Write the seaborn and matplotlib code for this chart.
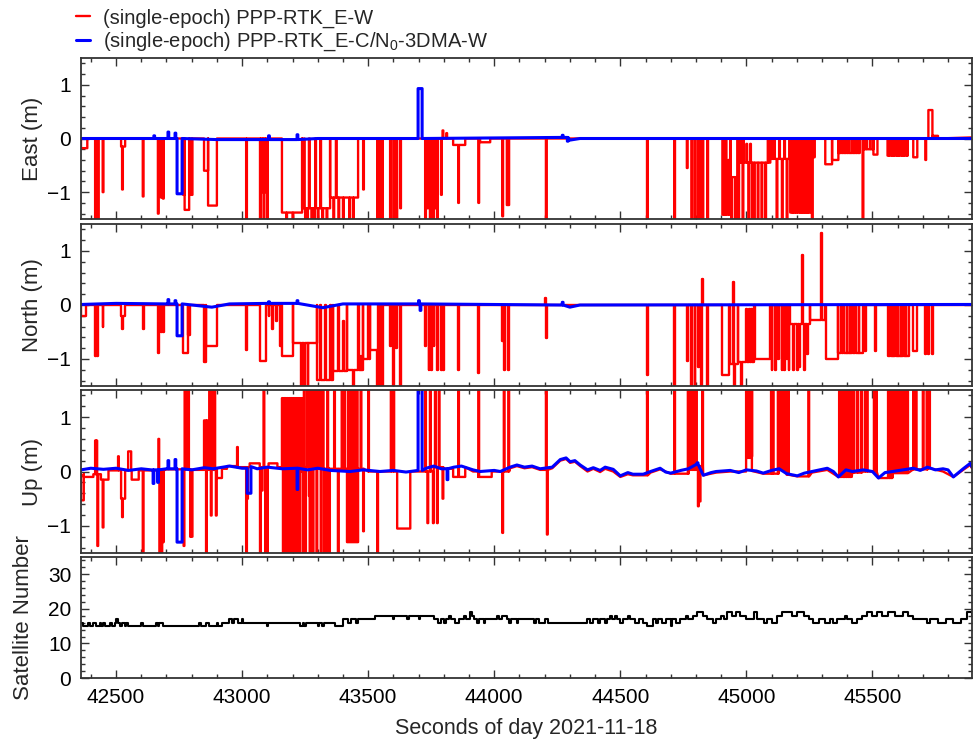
import numpy as np
import pandas as pd
import seaborn as sns
import matplotlib
matplotlib.use("Agg")
import matplotlib.pyplot as plt
from matplotlib.ticker import MultipleLocator

# ---- data (seconds of day, metres / count) ----
X_MIN, X_MAX = 42361, 45895

# East, red (PPP-RTK_E-W)
east_red_base = [(42361, 0.0), (45895, 0.02)]
east_red_plateaus = [
    (42361, 42386, -0.18), (42520, 42536, -0.15), (42766, 42772, -1.05), (42772, 42790, -1.33),
    (42790, 42795, -1.05), (42849, 42865, -0.6), (42865, 42900, -1.25), (43158, 43238, -1.38),
    (43238, 43349, -1.3), (43349, 43460, -1.1), (43837, 43885, -0.12), (43944, 43984, -0.07),
    (44905, 44937, -1.42), (44937, 44964, -0.72), (44990, 45095, -0.45), (45095, 45170, -0.38),
    (45174, 45254, -1.38), (45313, 45340, -0.48), (45340, 45365, -0.4), (45365, 45450, -0.27),
    (45464, 45504, -0.2), (45504, 45520, -0.3), (45560, 45640, -0.32), (45662, 45678, -0.35),
    (45722, 45738, 0.53), (45738, 45760, 0.05),
]
east_red_spikes = [
    (42417, -1.6), (42428, -1.6), (42447, -1.0), (42524, -0.95), (42606, -1.08), (42666, -1.4),
    (42678, -1.1), (42686, -1.12), (42800, -1.05), (43016, -1.6), (43071, -1.6), (43078, -1.0),
    (43085, -1.6), (43092, -1.0), (43099, -1.6), (43175, -1.6), (43200, -1.6), (43245, 0.0),
    (43250, -1.6), (43258, -1.6), (43265, 0.0), (43275, -1.6), (43285, -1.6), (43290, 0.0),
    (43300, -1.6), (43310, 0.0), (43318, -1.6), (43335, -1.6), (43362, -1.6), (43372, 0.0),
    (43382, -1.6), (43400, -1.6), (43425, -1.6), (43440, -1.6), (43480, -0.95), (43536, -1.6),
    (43548, -1.6), (43555, -1.6), (43587, -1.6), (43600, -1.6), (43612, -1.6), (43627, -1.3),
    (43726, -1.6), (43735, -1.3), (43745, -1.6), (43757, -1.6), (43765, -1.3), (43773, -1.6),
    (43789, -1.05), (43795, 0.15), (43810, 0.1), (43857, -1.2), (43937, -1.2), (44032, -1.45),
    (44050, -1.24), (44056, -1.24), (44205, -1.6), (44606, -1.6), (44714, -1.6), (44764, -0.55),
    (44782, -1.6), (44795, -1.6), (44808, -1.6), (44820, -1.6), (44826, -1.6), (44845, -1.6),
    (44910, 0.0), (44918, 0.0), (44928, -0.4), (44940, -1.6), (44955, -1.6), (44968, -1.6),
    (44975, -0.45), (44985, -1.6), (45000, -0.1), (45008, -1.6), (45015, -0.1), (45022, -1.6),
    (45030, -1.6), (45045, -1.6), (45060, -1.6), (45075, -1.6), (45085, 0.0), (45100, 0.0),
    (45110, 0.0), (45120, -1.6), (45130, 0.0), (45141, -1.6), (45150, 0.0), (45160, -1.6),
    (45180, 0.0), (45187, 0.0), (45195, 0.0), (45202, 0.0), (45210, 0.0), (45216, 0.0),
    (45222, -0.5), (45228, 0.0), (45235, 0.0), (45240, 0.0), (45246, 0.0), (45260, -1.6),
    (45268, -0.35), (45375, 0.0), (45385, 0.0), (45395, 0.0), (45405, 0.0), (45418, 0.0),
    (45430, 0.0), (45440, 0.0), (45461, -1.6), (45475, 0.0), (45490, 0.0), (45565, 0.0),
    (45575, 0.0), (45585, 0.0), (45595, 0.0), (45605, 0.0), (45615, 0.0), (45625, 0.0),
    (45635, 0.0), (45710, -0.4),
]

# East, blue (PPP-RTK_E-C/N0-3DMA-W)
east_blue_base = [(42361, 0.0), (42900, -0.02), (43300, 0.0), (44262, 0.02), (44300, -0.03),
                  (44340, 0.0), (45895, 0.0)]
east_blue_plateaus = [(42742, 42762, -1.03), (43698, 43714, 0.93)]
east_blue_spikes = [(42650, 0.05), (42706, 0.12), (42734, 0.1), (43105, 0.05), (43218, 0.07),
                    (44270, 0.06), (44290, -0.05)]

# North, red
north_red_base = [(42361, 0.0), (45895, 0.0)]
north_red_plateaus = [
    (42361, 42380, -0.2), (42520, 42536, -0.2), (42766, 42785, -0.88), (42785, 42794, -0.55),
    (42849, 42855, -1.05), (42855, 42900, -0.75), (43071, 43095, -1.03), (43158, 43202, -0.95),
    (43202, 43298, -0.7), (43298, 43361, -1.38), (43361, 43416, -1.23), (43416, 43480, -1.2),
    (43480, 43507, -1.0), (43507, 43540, -0.83), (44905, 44930, -1.3), (44935, 44965, -1.1),
    (44965, 45030, -1.05), (45036, 45095, -1.0), (45175, 45254, -0.35), (45254, 45313, -0.28),
    (45317, 45365, -1.0), (45365, 45461, -0.88), (45560, 45645, -0.95), (45662, 45678, -0.85),
]
north_red_spikes = [
    (42417, -0.95), (42425, -0.95), (42447, -0.4), (42524, -0.45), (42606, -0.45), (42666, -0.88),
    (42680, -0.5), (42686, -0.5), (43016, -0.83), (43105, -0.2), (43120, -0.45), (43135, -0.3),
    (43150, -0.75), (43235, -1.6), (43245, -1.6), (43260, -1.6), (43310, 0.0), (43330, 0.0),
    (43350, 0.0), (43380, 0.0), (43400, -0.3), (43440, -1.6), (43460, 0.0), (43470, -0.95),
    (43500, 0.0), (43536, -1.6), (43548, -1.6), (43555, -1.6), (43587, -0.75), (43600, -1.6),
    (43612, -0.8), (43627, -1.6), (43726, -0.75), (43740, -1.2), (43750, -1.2), (43760, -0.75),
    (43773, -1.2), (43789, -1.2), (43797, -1.2), (43857, -1.2), (43937, -1.25), (44032, -0.66),
    (44040, -1.2), (44056, -1.2), (44203, 0.13), (44207, -0.61), (44606, -1.29), (44714, -1.6),
    (44765, -1.04), (44782, -1.6), (44795, -1.6), (44808, -1.15), (44820, -1.6), (44824, 0.49),
    (44845, -1.6), (44948, 0.43), (44952, -1.6), (44980, -1.6), (45000, -0.08), (45010, -0.08),
    (45020, -0.08), (45100, -1.2), (45115, -1.2), (45125, -1.0), (45140, -1.2), (45150, -1.2),
    (45160, -1.0), (45168, -1.2), (45185, -1.2), (45200, -1.2), (45210, -1.15), (45220, 0.92),
    (45230, -1.2), (45240, -0.9), (45296, 1.33), (45375, 0.0), (45385, 0.0), (45398, 0.0),
    (45410, 0.0), (45420, 0.0), (45432, 0.0), (45445, 0.0), (45470, -0.85), (45512, -0.85),
    (45570, 0.0), (45580, 0.0), (45590, 0.0), (45600, 0.0), (45612, 0.0), (45622, 0.0),
    (45632, 0.0), (45710, -0.9), (45722, -0.9), (45738, -0.9),
]

# North, blue
north_blue_base = [(42361, 0.01), (42500, 0.03), (42700, 0.02), (42880, -0.04), (42950, 0.02),
                   (43100, 0.03), (43320, -0.05), (43400, 0.02), (44262, 0.0), (44300, -0.04),
                   (44340, 0.0), (45895, 0.01)]
north_blue_plateaus = [(42742, 42762, -0.57)]
north_blue_spikes = [(42706, 0.1), (42734, 0.08), (43105, 0.06), (43218, 0.08), (43700, 0.08),
                     (43706, -0.1), (44270, 0.05)]

# Up, red
up_red_base = [
    (42361, -0.05), (42450, 0.02), (42600, 0.02), (42700, 0.04), (42800, 0.03), (42900, 0.05),
    (42950, 0.08), (43100, 0.08), (43300, 0.05), (43500, 0.0), (43700, 0.0), (43760, 0.08),
    (43800, 0.05), (43870, 0.08), (43916, 0.0), (43944, -0.1), (43990, 0.0), (44063, 0.06),
    (44090, 0.1), (44120, 0.06), (44150, 0.08), (44182, 0.03), (44230, 0.06), (44262, 0.2),
    (44285, 0.23), (44301, 0.16), (44320, 0.18), (44341, 0.1), (44370, 0.0), (44393, 0.05),
    (44420, -0.01), (44440, 0.05), (44472, 0.0), (44500, -0.1), (44530, -0.05), (44550, -0.07),
    (44591, -0.07), (44620, -0.02), (44658, 0.04), (44700, -0.04), (44770, 0.03), (44805, 0.1),
    (44829, -0.07), (44880, -0.02), (44936, 0.0), (45000, 0.01), (45067, -0.04), (45130, 0.03),
    (45160, -0.06), (45202, -0.09), (45260, -0.02), (45321, 0.03), (45365, -0.1), (45420, -0.02),
    (45464, 0.0), (45524, -0.12), (45580, -0.03), (45662, 0.04), (45718, 0.06), (45780, 0.0),
    (45821, -0.1), (45860, 0.03), (45888, 0.12), (45895, 0.06),
]
up_red_plateaus = [
    (42361, 42372, -0.53), (42372, 42410, -0.1), (42440, 42470, -0.15), (42520, 42536, -0.5),
    (42548, 42560, 0.37), (42562, 42590, -0.15), (42849, 42866, 0.94), (42900, 42920, -0.12),
    (42940, 42980, 0.1), (43030, 43070, 0.15), (43105, 43140, 0.15), (43158, 43238, 1.35),
    (43416, 43460, -1.3), (43615, 43667, -1.05), (43837, 43885, -0.1), (43937, 43990, -0.1),
    (44999, 45022, 1.7),
]
up_red_spikes = [
    (42417, 0.57), (42422, 0.57), (42426, -1.37), (42447, -1.03), (42508, 0.28), (42524, -0.84),
    (42606, -1.6), (42668, 0.6), (42672, -1.6), (42680, -1.6), (42686, -1.3), (42768, -1.37),
    (42772, 1.6), (42780, 1.6), (42786, 1.6), (42794, -1.2), (42800, -1.2), (42857, -1.6),
    (42870, 1.6), (42876, -0.81), (42882, 1.6), (42890, 1.6), (42896, -0.81), (42980, 0.45),
    (43016, -1.6), (43020, -0.5), (43071, -1.6), (43078, -0.35), (43085, 1.6), (43092, -1.6),
    (43099, -1.6), (43162, -1.6), (43175, -1.6), (43182, -1.6), (43190, -1.6), (43198, -1.6),
    (43205, -1.6), (43212, -1.6), (43220, -1.6), (43228, -1.6), (43232, 0.0), (43242, -1.6),
    (43245, 1.6), (43250, -1.6), (43258, 1.6), (43262, 1.6), (43265, -0.45), (43268, -1.6),
    (43272, 1.6), (43276, -1.6), (43280, -1.6), (43284, 1.6), (43288, 1.6), (43295, -1.6),
    (43300, 1.6), (43305, 1.6), (43312, -1.6), (43316, 1.6), (43320, 1.6), (43325, -1.6),
    (43330, -1.6), (43338, 1.6), (43342, -1.6), (43345, -1.6), (43365, 1.6), (43380, -1.6),
    (43395, 1.6), (43405, 1.6), (43420, 1.6), (43432, 1.6), (43445, 1.6), (43455, 1.6),
    (43470, 1.6), (43480, -1.1), (43500, 1.6), (43536, -1.6), (43590, 1.6), (43600, 1.6),
    (43726, 1.6), (43735, -0.95), (43745, 1.6), (43757, -0.95), (43765, 1.6), (43773, -0.95),
    (43780, 1.6), (43795, -0.5), (43857, 1.6), (43937, 1.6), (44032, -1.13), (44038, 1.6),
    (44056, 1.6), (44205, 1.6), (44209, -1.16), (44606, 1.6), (44714, 1.6), (44768, 1.6),
    (44780, 1.6), (44790, 1.6), (44800, 1.6), (44808, -0.64), (44815, -0.55), (44825, 1.6),
    (45005, 0.25), (45012, 0.25), (45020, 0.28), (45098, 1.6), (45105, 1.6), (45125, 1.6),
    (45135, 1.6), (45145, 1.6), (45155, 1.6), (45165, 1.6), (45246, 1.6), (45368, 1.6),
    (45374, 1.6), (45380, 1.6), (45392, 1.6), (45400, 1.6), (45406, 1.6), (45415, 1.6),
    (45425, 1.6), (45440, 1.6), (45455, 1.6), (45470, 1.6), (45478, 1.6), (45506, 1.6),
    (45514, 1.6), (45562, 1.6), (45570, 1.6), (45576, 1.6), (45585, 1.6), (45592, 1.6),
    (45600, 1.6), (45608, 1.6), (45615, 1.6), (45622, 1.6), (45630, 1.6), (45638, 1.6),
    (45662, 1.6), (45672, 1.6), (45700, 1.6), (45715, 1.6), (45725, 1.6),
]

# Up, blue
up_blue_base = [
    (42361, 0.03), (42400, 0.06), (42450, 0.04), (42500, 0.06), (42550, 0.02), (42600, 0.05),
    (42640, 0.03), (42700, 0.05), (42800, 0.03), (42850, 0.07), (42885, 0.05), (42950, 0.1),
    (43000, 0.06), (43024, 0.09), (43060, 0.05), (43100, 0.08), (43160, 0.05), (43218, 0.06),
    (43260, 0.03), (43300, 0.06), (43350, 0.02), (43428, 0.0), (43480, 0.03), (43547, 0.0),
    (43600, 0.02), (43650, -0.01), (43698, 0.02), (43730, 0.06), (43760, 0.1), (43790, 0.05),
    (43840, 0.08), (43870, 0.1), (43916, 0.03), (43944, 0.0), (44000, 0.02), (44024, 0.0),
    (44063, 0.08), (44090, 0.12), (44120, 0.08), (44150, 0.1), (44182, 0.05), (44230, 0.08),
    (44262, 0.22), (44285, 0.25), (44301, 0.18), (44320, 0.2), (44341, 0.12), (44370, 0.03),
    (44393, 0.07), (44420, 0.02), (44440, 0.08), (44472, 0.04), (44500, -0.08), (44530, -0.02),
    (44550, -0.05), (44591, -0.05), (44620, 0.0), (44658, 0.06), (44680, -0.01), (44700, -0.03),
    (44740, 0.02), (44770, 0.05), (44805, 0.14), (44829, -0.07), (44860, -0.02), (44880, 0.0),
    (44936, 0.02), (44970, -0.02), (45000, 0.03), (45040, 0.01), (45067, -0.03), (45100, 0.02),
    (45130, 0.05), (45160, -0.04), (45202, -0.08), (45230, -0.03), (45260, 0.0), (45290, 0.03),
    (45321, 0.06), (45345, 0.0), (45365, -0.1), (45395, 0.03), (45420, 0.0), (45464, 0.03),
    (45500, 0.0), (45524, -0.12), (45550, -0.02), (45580, 0.0), (45620, 0.03), (45662, 0.06),
    (45690, 0.02), (45718, 0.08), (45750, 0.03), (45780, 0.05), (45800, 0.03), (45821, -0.1),
    (45860, 0.05), (45888, 0.15), (45895, 0.08),
]
up_blue_plateaus = [(42742, 42762, -1.3), (43020, 43035, -0.4), (43698, 43714, 1.7)]
up_blue_spikes = [(42647, -0.22), (42665, -0.2), (42706, 0.2), (42734, 0.22), (43218, -0.33),
                  (43813, -0.15), (44805, 0.16)]

# satellite number (value holds until the next time)
sat_time = [
    42361, 42368, 42390, 42398, 42410, 42420, 42435, 42440, 42450, 42455, 42475, 42482, 42495,
    42500, 42506, 42515, 42525, 42535, 42540, 42548, 42600, 42606, 42660, 42668, 42672, 42685,
    42830, 42838, 42855, 42870, 42900, 42905, 42920, 42950, 42960, 42968, 42985, 43000, 43005,
    43100, 43104, 43230, 43240, 43245, 43252, 43300, 43306, 43318, 43325, 43370, 43399, 43420,
    43430, 43450, 43460, 43528, 43600, 43604, 43655, 43660, 43700, 43705, 43760, 43775, 43790,
    43800, 43810, 43820, 43828, 43845, 43860, 43880, 43888, 43905, 43912, 43920, 43930, 43938,
    43944, 43960, 43965, 44011, 44020, 44030, 44050, 44060, 44066, 44090, 44096, 44156, 44165,
    44176, 44200, 44215, 44369, 44380, 44390, 44410, 44420, 44440, 44448, 44460, 44468, 44480,
    44488, 44500, 44510, 44530, 44540, 44560, 44575, 44590, 44607, 44631, 44640, 44650, 44665,
    44680, 44700, 44705, 44720, 44735, 44760, 44770, 44790, 44805, 44830, 44845, 44869, 44880,
    44900, 44910, 44925, 44945, 44960, 44975, 45000, 45030, 45043, 45070, 45080, 45100, 45122,
    45140, 45180, 45200, 45230, 45250, 45266, 45290, 45310, 45330, 45345, 45361, 45390, 45400,
    45420, 45440, 45460, 45480, 45500, 45520, 45540, 45560, 45590, 45620, 45640, 45662, 45718,
    45730, 45760, 45790, 45820, 45850, 45877, 45895,
]
sat_count = [
    16, 15, 16, 15, 16, 15, 16, 15, 16, 15, 16, 15, 16,
    17, 16, 15, 16, 15, 16, 15, 16, 15, 16, 15, 16, 15,
    16, 15, 16, 15, 16, 15, 16, 17, 16, 17, 16, 17, 16,
    15, 16, 15, 16, 15, 16, 15, 16, 15, 16, 15, 17, 16,
    17, 16, 17, 18, 17, 18, 17, 18, 17, 18, 17, 16, 17,
    16, 17, 18, 17, 16, 17, 18, 17, 19, 18, 17, 16, 17,
    17, 16, 17, 18, 17, 18, 17, 16, 17, 16, 17, 16, 17,
    16, 17, 16, 17, 16, 17, 16, 17, 16, 17, 18, 17, 18,
    17, 16, 17, 18, 17, 16, 17, 16, 15, 17, 16, 17, 16,
    17, 15, 17, 16, 17, 18, 17, 18, 19, 18, 17, 16, 17,
    18, 17, 19, 18, 19, 18, 17, 19, 17, 16, 17, 16, 18,
    19, 18, 19, 18, 17, 16, 17, 16, 17, 16, 17, 18, 17,
    16, 17, 18, 19, 18, 19, 18, 19, 18, 19, 18, 17, 16,
    17, 16, 17, 16, 17, 19, 18,
]

LABEL_RED = "(single-epoch) PPP-RTK_E-W"
LABEL_BLUE = "(single-epoch) PPP-RTK_E-C/N$_0$-3DMA-W"

# sort order at equal times: base knot, segment end, segment start, spike
ORDER = {"base": 0, "end": 1, "start": 2, "spike": 3}


def build(base, plateaus, spikes, w=3.0):
    # turn base knots, held segments and one-epoch spikes into a vertex list
    events = [(t, ORDER["base"], v) for t, v in base]
    for t0, t1, v in plateaus:
        events += [(t0, ORDER["start"], v), (t1, ORDER["end"], v)]
    events += [(t, ORDER["spike"], v) for t, v in spikes]
    events.sort(key=lambda e: (e[0], e[1]))
    xs, ys = [], []
    cur, plat = base[0][1], None
    for t, kind, v in events:
        level = plat if plat is not None else cur
        if kind == ORDER["base"]:
            cur = v
            if plat is None:
                xs.append(t); ys.append(v)
        elif kind == ORDER["start"]:
            xs += [t, t]; ys += [level, v]; plat = v
        elif kind == ORDER["end"]:
            plat = None
            xs += [t, t]; ys += [v, cur]
        else:
            xs += [t, t, t + w, t + w]; ys += [level, v, v, level]
    return pd.DataFrame({"t": xs, "v": ys})


sns.set_style("ticks")
plt.rcParams["font.family"] = ["Liberation Sans", "DejaVu Sans"]
plt.rcParams["mathtext.default"] = "regular"
plt.rcParams["axes.unicode_minus"] = True

fig = plt.figure(figsize=(9.74, 7.41), dpi=100)
W = 974.0; H = 741.0
boxes = [(58, 219), (224, 386), (390, 553), (557, 678)]
axes = [fig.add_axes([81 / W, 1 - b / H, 891 / W, (b - t) / H]) for t, b in boxes]

panels = [
    ("East (m)", (east_red_base, east_red_plateaus, east_red_spikes),
     (east_blue_base, east_blue_plateaus, east_blue_spikes)),
    ("North (m)", (north_red_base, north_red_plateaus, north_red_spikes),
     (north_blue_base, north_blue_plateaus, north_blue_spikes)),
    ("Up (m)", (up_red_base, up_red_plateaus, up_red_spikes),
     (up_blue_base, up_blue_plateaus, up_blue_spikes)),
]

for ax, (lab, red, blue) in zip(axes[:3], panels):
    d_red = build(*red)
    d_blue = build(*blue)
    sns.lineplot(data=d_red, x="t", y="v", ax=ax, color="#ff0000", lw=1.7,
                 sort=False, estimator=None, label=LABEL_RED)
    sns.lineplot(data=d_blue, x="t", y="v", ax=ax, color="#0000ff", lw=2.2,
                 sort=False, estimator=None, label=LABEL_BLUE)
    ax.set_ylim(-1.5, 1.5)
    ax.yaxis.set_major_locator(MultipleLocator(1))
    ax.yaxis.set_minor_locator(MultipleLocator(0.2))
    ax.set_ylabel(lab, fontsize=16)
    ax.yaxis.set_label_coords(-0.043, 0.5)

sat = pd.DataFrame({"t": sat_time, "n": sat_count})
sns.lineplot(data=sat, x="t", y="n", ax=axes[3], color="black", lw=1.5,
             sort=False, estimator=None, drawstyle="steps-post")
axes[3].set_ylim(0, 35)
axes[3].yaxis.set_major_locator(MultipleLocator(10))
axes[3].yaxis.set_minor_locator(MultipleLocator(2))
axes[3].set_ylabel("Satellite Number", fontsize=16)
axes[3].yaxis.set_label_coords(-0.053, 0.5)
axes[3].set_xlabel("Seconds of day 2021-11-18", fontsize=15.5, labelpad=8)

for i, ax in enumerate(axes):
    ax.set_xlim(X_MIN, X_MAX)
    ax.xaxis.set_major_locator(MultipleLocator(500))
    ax.xaxis.set_minor_locator(MultipleLocator(100))
    ax.tick_params(which="both", direction="in", top=True, right=True, colors="#333333",
                   labelcolor="black", labelsize=15, width=1.0)
    ax.tick_params(which="major", length=6, pad=7)
    ax.tick_params(which="minor", length=3)
    for s in ax.spines.values():
        s.set_color("#333333")
        s.set_linewidth(1.3)
    if i < 3:
        ax.tick_params(labelbottom=False)
        ax.set_xlabel("")
    leg = ax.get_legend()
    if leg is not None:
        leg.remove()

handles, labels = axes[0].get_legend_handles_labels()
fig.legend(handles, labels, loc="upper left", bbox_to_anchor=(0.066, 1.005), frameon=False,
           fontsize=14.5, handlelength=0.7, handletextpad=0.6, labelspacing=0.15,
           borderaxespad=0.2)

fig.savefig("out.png", dpi=100)
